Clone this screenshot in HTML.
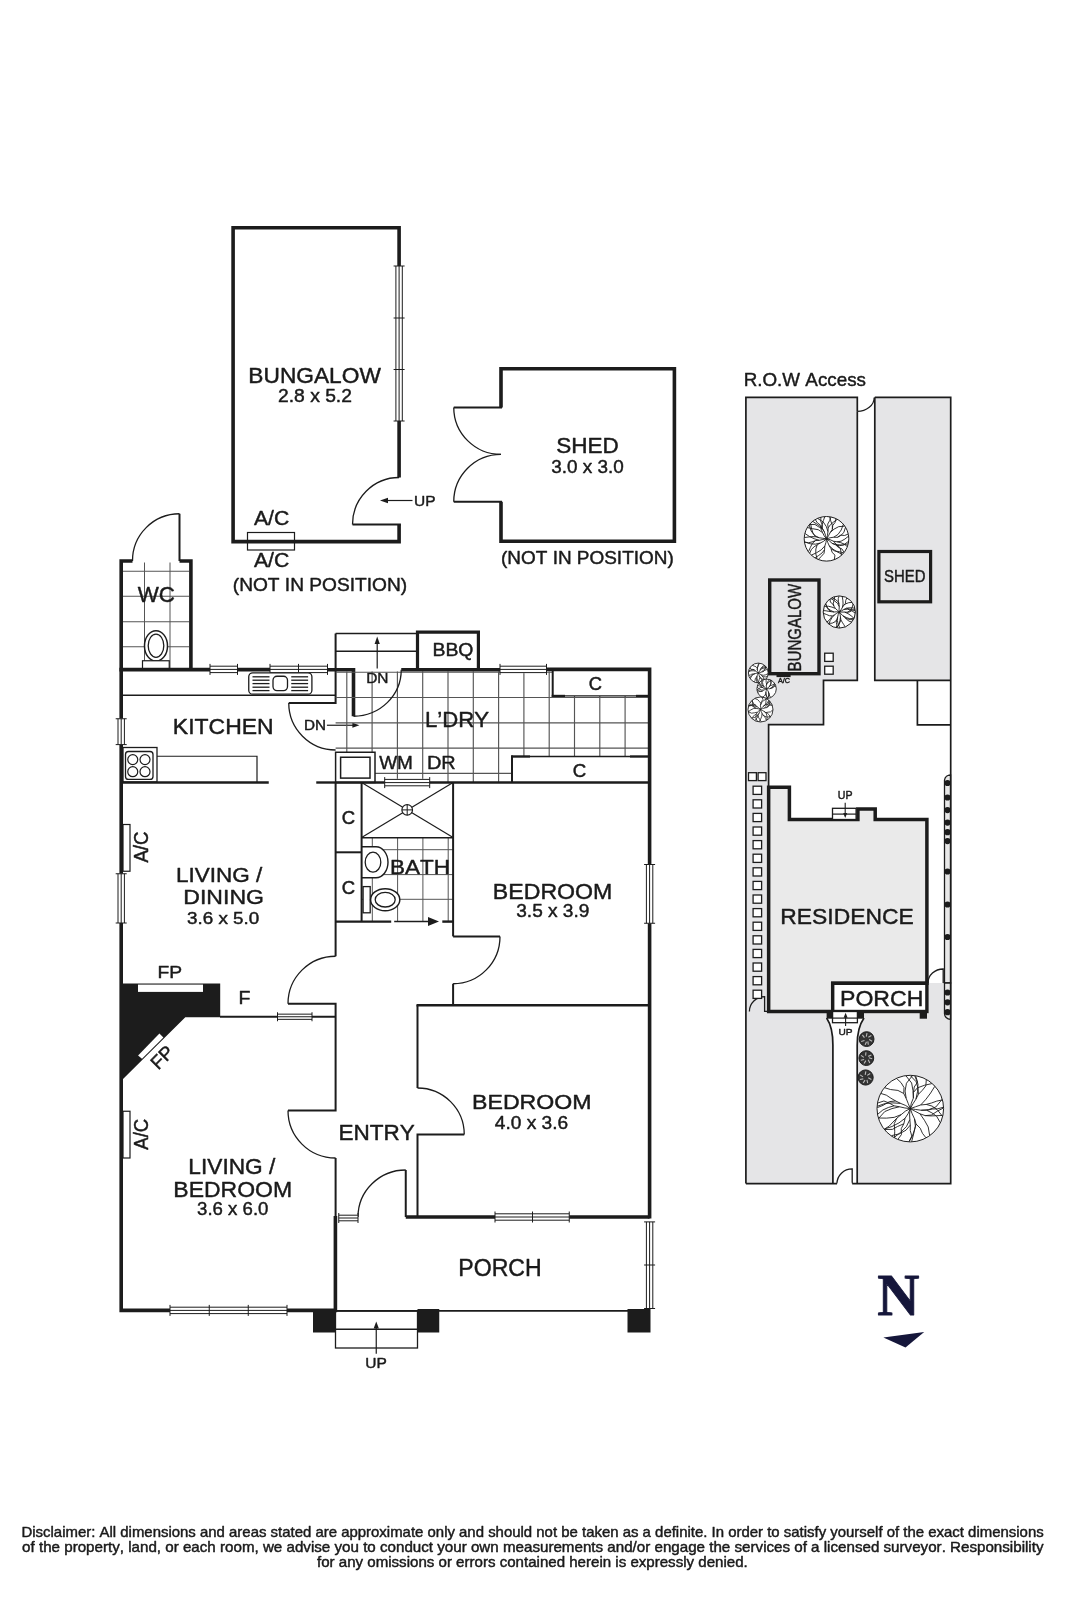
<!DOCTYPE html>
<html><head><meta charset="utf-8"><style>
html,body{margin:0;padding:0;background:#fff;}
svg{display:block;will-change:transform;}
text{font-kerning:none;font-feature-settings:"kern" 0,"liga" 0;}
.disc{position:absolute;left:0;top:0;}
</style></head><body>
<svg width="1067" height="1600" viewBox="0 0 1067 1600" style="font-family:'Liberation Sans',sans-serif">
<rect width="1067" height="1600" fill="#fff"/>
<path d="M399.1,266 L399.1,227.7 L233.1,227.7 L233.1,541.6 L399.1,541.6 L399.1,524.5" stroke="#1c1c1c" stroke-width="3.60" fill="none"/>
<path d="M399.1,421 L399.1,477.5" stroke="#1c1c1c" stroke-width="3.60" fill="none"/>
<line x1="352.50" y1="524.50" x2="400.90" y2="524.50" stroke="#1c1c1c" stroke-width="2.00" stroke-linecap="butt"/>
<path d="M399.1,477.5 A46.6,47 0 0 0 352.5,524.5" stroke="#1c1c1c" stroke-width="1.30" fill="none"/>
<rect x="395.30" y="266.00" width="7.60" height="155.00" fill="#fff"/>
<line x1="395.90" y1="266.00" x2="395.90" y2="421.00" stroke="#1c1c1c" stroke-width="1.00" stroke-linecap="butt"/>
<line x1="399.10" y1="266.00" x2="399.10" y2="421.00" stroke="#1c1c1c" stroke-width="1.00" stroke-linecap="butt"/>
<line x1="402.30" y1="266.00" x2="402.30" y2="421.00" stroke="#1c1c1c" stroke-width="1.00" stroke-linecap="butt"/>
<line x1="393.60" y1="266.00" x2="404.60" y2="266.00" stroke="#1c1c1c" stroke-width="1.00" stroke-linecap="butt"/>
<line x1="393.60" y1="318.00" x2="404.60" y2="318.00" stroke="#1c1c1c" stroke-width="1.00" stroke-linecap="butt"/>
<line x1="393.60" y1="369.50" x2="404.60" y2="369.50" stroke="#1c1c1c" stroke-width="1.00" stroke-linecap="butt"/>
<line x1="393.60" y1="421.00" x2="404.60" y2="421.00" stroke="#1c1c1c" stroke-width="1.00" stroke-linecap="butt"/>
<rect x="247.50" y="532.50" width="47.00" height="17.50" rx="0.00" stroke="#1c1c1c" stroke-width="1.20" fill="none"/>
<line x1="384.00" y1="500.50" x2="412.50" y2="500.50" stroke="#1c1c1c" stroke-width="1.20" stroke-linecap="butt"/>
<polygon points="380.00,500.50 388.00,497.70 388.00,503.30" fill="#1c1c1c"/>
<text transform="translate(248.36 382.77) scale(1.0451 1)" font-size="21.73" font-family="Liberation Sans" font-weight="normal" fill="#1a1a1a" stroke="#1a1a1a" stroke-width="0.45" stroke-linejoin="round">BUNGALOW</text>
<text transform="translate(278.00 402.27) scale(1.0659 1)" font-size="18.10" font-family="Liberation Sans" font-weight="normal" fill="#1a1a1a" stroke="#1a1a1a" stroke-width="0.45" stroke-linejoin="round">2.8 x 5.2</text>
<text transform="translate(253.93 525.27) scale(1.0111 1)" font-size="21.00" font-family="Liberation Sans" font-weight="normal" fill="#1a1a1a" stroke="#1a1a1a" stroke-width="0.45" stroke-linejoin="round">A/C</text>
<text transform="translate(253.93 567.27) scale(1.0473 1)" font-size="20.28" font-family="Liberation Sans" font-weight="normal" fill="#1a1a1a" stroke="#1a1a1a" stroke-width="0.45" stroke-linejoin="round">A/C</text>
<text transform="translate(232.79 591.27) scale(1.0171 1)" font-size="18.82" font-family="Liberation Sans" font-weight="normal" fill="#1a1a1a" stroke="#1a1a1a" stroke-width="0.45" stroke-linejoin="round">(NOT IN POSITION)</text>
<text transform="translate(414.03 505.77) scale(1.0221 1)" font-size="15.19" font-family="Liberation Sans" font-weight="normal" fill="#1a1a1a" stroke="#1a1a1a" stroke-width="0.45" stroke-linejoin="round">UP</text>
<path d="M501,407.5 L501,368.7 L674.4,368.7 L674.4,541.3 L501,541.3 L501,501.8" stroke="#1c1c1c" stroke-width="3.60" fill="none"/>
<line x1="453.75" y1="407.60" x2="502.00" y2="407.60" stroke="#1c1c1c" stroke-width="2.00" stroke-linecap="butt"/>
<line x1="453.75" y1="501.80" x2="502.00" y2="501.80" stroke="#1c1c1c" stroke-width="2.00" stroke-linecap="butt"/>
<path d="M453.75,407.5 A47.3,47 0 0 0 501,454.4" stroke="#1c1c1c" stroke-width="1.30" fill="none"/>
<path d="M453.75,501.8 A47.3,47.4 0 0 1 501,454.4" stroke="#1c1c1c" stroke-width="1.30" fill="none"/>
<text transform="translate(556.20 453.02) scale(1.0207 1)" font-size="22.09" font-family="Liberation Sans" font-weight="normal" fill="#1a1a1a" stroke="#1a1a1a" stroke-width="0.45" stroke-linejoin="round">SHED</text>
<text transform="translate(551.26 472.77) scale(1.0042 1)" font-size="18.82" font-family="Liberation Sans" font-weight="normal" fill="#1a1a1a" stroke="#1a1a1a" stroke-width="0.45" stroke-linejoin="round">3.0 x 3.0</text>
<text transform="translate(501.05 564.27) scale(1.0082 1)" font-size="18.82" font-family="Liberation Sans" font-weight="normal" fill="#1a1a1a" stroke="#1a1a1a" stroke-width="0.45" stroke-linejoin="round">(NOT IN POSITION)</text>
<line x1="123.00" y1="571.25" x2="189.00" y2="571.25" stroke="#555555" stroke-width="1.00" stroke-linecap="butt"/>
<line x1="123.00" y1="596.25" x2="189.00" y2="596.25" stroke="#555555" stroke-width="1.00" stroke-linecap="butt"/>
<line x1="123.00" y1="621.75" x2="189.00" y2="621.75" stroke="#555555" stroke-width="1.00" stroke-linecap="butt"/>
<line x1="123.00" y1="646.75" x2="189.00" y2="646.75" stroke="#555555" stroke-width="1.00" stroke-linecap="butt"/>
<line x1="144.50" y1="562.50" x2="144.50" y2="668.00" stroke="#555555" stroke-width="1.00" stroke-linecap="butt"/>
<line x1="170.00" y1="562.50" x2="170.00" y2="668.00" stroke="#555555" stroke-width="1.00" stroke-linecap="butt"/>
<path d="M132.5,561 L121.2,561 L121.2,718.75" stroke="#1c1c1c" stroke-width="3.60" fill="none"/>
<path d="M179.5,561 L190.9,561 L190.9,669.5" stroke="#1c1c1c" stroke-width="3.60" fill="none"/>
<line x1="179.50" y1="513.75" x2="179.50" y2="561.00" stroke="#1c1c1c" stroke-width="2.00" stroke-linecap="butt"/>
<path d="M179.5,513.75 A47,47 0 0 0 132.5,561" stroke="#1c1c1c" stroke-width="1.30" fill="none"/>
<ellipse cx="156" cy="645.9" rx="11.5" ry="15.2" fill="#fff" stroke="#1c1c1c" stroke-width="1.5"/>
<ellipse cx="156" cy="645.7" rx="7.8" ry="11.6" fill="none" stroke="#1c1c1c" stroke-width="1.3"/>
<rect x="142.50" y="660.75" width="26.75" height="8.75" rx="0.00" stroke="#1c1c1c" stroke-width="1.20" fill="#fff"/>
<text transform="translate(137.63 601.77) scale(0.9798 1)" font-size="22.82" font-family="Liberation Sans" font-weight="normal" fill="#1a1a1a" stroke="#1a1a1a" stroke-width="0.45" stroke-linejoin="round">WC</text>
<path d="M121.2,667.7 L121.2,669.6 L210,669.6" stroke="#1c1c1c" stroke-width="3.60" fill="none"/>
<path d="M237.5,669.6 L270,669.6" stroke="#1c1c1c" stroke-width="3.60" fill="none"/>
<path d="M327.5,669.8 L353.5,669.8 L353.5,716.25" stroke="#1c1c1c" stroke-width="3.60" fill="none"/>
<rect x="210.00" y="665.60" width="27.50" height="7.60" fill="#fff"/>
<line x1="210.00" y1="666.20" x2="237.50" y2="666.20" stroke="#1c1c1c" stroke-width="1.00" stroke-linecap="butt"/>
<line x1="210.00" y1="669.40" x2="237.50" y2="669.40" stroke="#1c1c1c" stroke-width="1.00" stroke-linecap="butt"/>
<line x1="210.00" y1="672.60" x2="237.50" y2="672.60" stroke="#1c1c1c" stroke-width="1.00" stroke-linecap="butt"/>
<line x1="210.00" y1="663.90" x2="210.00" y2="674.90" stroke="#1c1c1c" stroke-width="1.00" stroke-linecap="butt"/>
<line x1="237.50" y1="663.90" x2="237.50" y2="674.90" stroke="#1c1c1c" stroke-width="1.00" stroke-linecap="butt"/>
<rect x="270.00" y="665.60" width="57.50" height="7.60" fill="#fff"/>
<line x1="270.00" y1="666.20" x2="327.50" y2="666.20" stroke="#1c1c1c" stroke-width="1.00" stroke-linecap="butt"/>
<line x1="270.00" y1="669.40" x2="327.50" y2="669.40" stroke="#1c1c1c" stroke-width="1.00" stroke-linecap="butt"/>
<line x1="270.00" y1="672.60" x2="327.50" y2="672.60" stroke="#1c1c1c" stroke-width="1.00" stroke-linecap="butt"/>
<line x1="270.00" y1="663.90" x2="270.00" y2="674.90" stroke="#1c1c1c" stroke-width="1.00" stroke-linecap="butt"/>
<line x1="298.50" y1="663.90" x2="298.50" y2="674.90" stroke="#1c1c1c" stroke-width="1.00" stroke-linecap="butt"/>
<line x1="327.50" y1="663.90" x2="327.50" y2="674.90" stroke="#1c1c1c" stroke-width="1.00" stroke-linecap="butt"/>
<path d="M335.6,633.4 L335.6,703.1 L288.75,703.1" stroke="#1c1c1c" stroke-width="2.00" fill="none"/>
<line x1="123.00" y1="695.20" x2="335.60" y2="695.20" stroke="#1c1c1c" stroke-width="1.50" stroke-linecap="butt"/>
<rect x="248.75" y="672.80" width="63.15" height="21.40" rx="4.00" stroke="#1c1c1c" stroke-width="1.30" fill="#fff"/>
<rect x="273.00" y="676.25" width="14.50" height="14.35" rx="4.00" stroke="#1c1c1c" stroke-width="1.30" fill="none"/>
<line x1="291.25" y1="676.80" x2="308.10" y2="676.80" stroke="#1c1c1c" stroke-width="1.30" stroke-linecap="butt"/>
<line x1="252.50" y1="676.80" x2="269.50" y2="676.80" stroke="#1c1c1c" stroke-width="1.30" stroke-linecap="butt"/>
<line x1="291.25" y1="680.20" x2="308.10" y2="680.20" stroke="#1c1c1c" stroke-width="1.30" stroke-linecap="butt"/>
<line x1="252.50" y1="680.20" x2="269.50" y2="680.20" stroke="#1c1c1c" stroke-width="1.30" stroke-linecap="butt"/>
<line x1="291.25" y1="683.60" x2="308.10" y2="683.60" stroke="#1c1c1c" stroke-width="1.30" stroke-linecap="butt"/>
<line x1="252.50" y1="683.60" x2="269.50" y2="683.60" stroke="#1c1c1c" stroke-width="1.30" stroke-linecap="butt"/>
<line x1="291.25" y1="687.20" x2="308.10" y2="687.20" stroke="#1c1c1c" stroke-width="1.30" stroke-linecap="butt"/>
<line x1="252.50" y1="687.20" x2="269.50" y2="687.20" stroke="#1c1c1c" stroke-width="1.30" stroke-linecap="butt"/>
<line x1="291.25" y1="690.60" x2="308.10" y2="690.60" stroke="#1c1c1c" stroke-width="1.30" stroke-linecap="butt"/>
<line x1="252.50" y1="690.60" x2="269.50" y2="690.60" stroke="#1c1c1c" stroke-width="1.30" stroke-linecap="butt"/>
<path d="M288.75,703.1 A46.9,47 0 0 0 335.6,750" stroke="#1c1c1c" stroke-width="1.30" fill="none"/>
<text transform="translate(303.97 730.38) scale(1.0554 1)" font-size="14.46" font-family="Liberation Sans" font-weight="normal" fill="#1a1a1a" stroke="#1a1a1a" stroke-width="0.45" stroke-linejoin="round">DN</text>
<line x1="326.90" y1="725.25" x2="354.00" y2="725.25" stroke="#1c1c1c" stroke-width="1.20" stroke-linecap="butt"/>
<polygon points="359.40,725.25 352.40,727.75 352.40,722.75" fill="#1c1c1c"/>
<rect x="123.00" y="747.50" width="34.00" height="34.50" rx="0.00" stroke="#1c1c1c" stroke-width="1.30" fill="none"/>
<rect x="125.50" y="751.50" width="27.50" height="27.90" rx="3.00" stroke="#1c1c1c" stroke-width="1.30" fill="none"/>
<circle cx="132.75" cy="759.60" r="5" fill="none" stroke="#1c1c1c" stroke-width="1.2"/>
<circle cx="145.00" cy="759.60" r="5" fill="none" stroke="#1c1c1c" stroke-width="1.2"/>
<circle cx="132.75" cy="771.70" r="5" fill="none" stroke="#1c1c1c" stroke-width="1.2"/>
<circle cx="145.00" cy="771.70" r="5" fill="none" stroke="#1c1c1c" stroke-width="1.2"/>
<path d="M157,756.25 L257,756.25 L257,782" stroke="#1c1c1c" stroke-width="1.20" fill="none"/>
<path d="M121.2,744.6 L121.2,873.75" stroke="#1c1c1c" stroke-width="3.60" fill="none"/>
<rect x="117.40" y="718.75" width="7.60" height="25.85" fill="#fff"/>
<line x1="118.00" y1="718.75" x2="118.00" y2="744.60" stroke="#1c1c1c" stroke-width="1.00" stroke-linecap="butt"/>
<line x1="121.20" y1="718.75" x2="121.20" y2="744.60" stroke="#1c1c1c" stroke-width="1.00" stroke-linecap="butt"/>
<line x1="124.40" y1="718.75" x2="124.40" y2="744.60" stroke="#1c1c1c" stroke-width="1.00" stroke-linecap="butt"/>
<line x1="115.70" y1="718.75" x2="126.70" y2="718.75" stroke="#1c1c1c" stroke-width="1.00" stroke-linecap="butt"/>
<line x1="115.70" y1="744.60" x2="126.70" y2="744.60" stroke="#1c1c1c" stroke-width="1.00" stroke-linecap="butt"/>
<line x1="123.00" y1="782.50" x2="268.75" y2="782.50" stroke="#1c1c1c" stroke-width="2.40" stroke-linecap="butt"/>
<line x1="316.25" y1="782.50" x2="335.60" y2="782.50" stroke="#1c1c1c" stroke-width="2.40" stroke-linecap="butt"/>
<text transform="translate(172.84 734.02) scale(1.0227 1)" font-size="22.46" font-family="Liberation Sans" font-weight="normal" fill="#1a1a1a" stroke="#1a1a1a" stroke-width="0.45" stroke-linejoin="round">KITCHEN</text>
<line x1="346.80" y1="671.50" x2="346.80" y2="782.00" stroke="#555555" stroke-width="1.15" stroke-linecap="butt"/>
<line x1="372.10" y1="671.50" x2="372.10" y2="782.00" stroke="#555555" stroke-width="1.15" stroke-linecap="butt"/>
<line x1="397.40" y1="671.50" x2="397.40" y2="782.00" stroke="#555555" stroke-width="1.15" stroke-linecap="butt"/>
<line x1="422.70" y1="671.50" x2="422.70" y2="782.00" stroke="#555555" stroke-width="1.15" stroke-linecap="butt"/>
<line x1="448.00" y1="671.50" x2="448.00" y2="782.00" stroke="#555555" stroke-width="1.15" stroke-linecap="butt"/>
<line x1="473.30" y1="671.50" x2="473.30" y2="782.00" stroke="#555555" stroke-width="1.15" stroke-linecap="butt"/>
<line x1="498.60" y1="671.50" x2="498.60" y2="782.00" stroke="#555555" stroke-width="1.15" stroke-linecap="butt"/>
<line x1="523.90" y1="671.50" x2="523.90" y2="756.50" stroke="#555555" stroke-width="1.15" stroke-linecap="butt"/>
<line x1="549.20" y1="671.50" x2="549.20" y2="756.50" stroke="#555555" stroke-width="1.15" stroke-linecap="butt"/>
<line x1="574.50" y1="696.00" x2="574.50" y2="756.50" stroke="#555555" stroke-width="1.15" stroke-linecap="butt"/>
<line x1="599.80" y1="696.00" x2="599.80" y2="756.50" stroke="#555555" stroke-width="1.15" stroke-linecap="butt"/>
<line x1="625.10" y1="696.00" x2="625.10" y2="756.50" stroke="#555555" stroke-width="1.15" stroke-linecap="butt"/>
<line x1="335.60" y1="672.25" x2="552.70" y2="672.25" stroke="#555555" stroke-width="1.15" stroke-linecap="butt"/>
<line x1="335.60" y1="697.50" x2="648.00" y2="697.50" stroke="#555555" stroke-width="1.15" stroke-linecap="butt"/>
<line x1="335.60" y1="722.90" x2="648.00" y2="722.90" stroke="#555555" stroke-width="1.15" stroke-linecap="butt"/>
<line x1="335.60" y1="748.10" x2="648.00" y2="748.10" stroke="#555555" stroke-width="1.15" stroke-linecap="butt"/>
<line x1="335.60" y1="773.40" x2="512.00" y2="773.40" stroke="#555555" stroke-width="1.15" stroke-linecap="butt"/>
<line x1="335.60" y1="633.40" x2="417.50" y2="633.40" stroke="#1c1c1c" stroke-width="1.50" stroke-linecap="butt"/>
<line x1="335.60" y1="651.20" x2="417.50" y2="651.20" stroke="#1c1c1c" stroke-width="1.50" stroke-linecap="butt"/>
<line x1="377.20" y1="668.40" x2="377.20" y2="643.00" stroke="#1c1c1c" stroke-width="1.20" stroke-linecap="butt"/>
<polygon points="377.20,636.50 379.80,644.00 374.60,644.00" fill="#1c1c1c"/>
<text transform="translate(366.21 682.52) scale(1.0427 1)" font-size="14.83" font-family="Liberation Sans" font-weight="normal" fill="#1a1a1a" stroke="#1a1a1a" stroke-width="0.45" stroke-linejoin="round">DN</text>
<path d="M417.5,671 L417.5,632.2 L478.4,632.2 L478.4,671" stroke="#1c1c1c" stroke-width="3.20" fill="none"/>
<text transform="translate(432.43 655.98) scale(1.0579 1)" font-size="18.39" font-family="Liberation Sans" font-weight="normal" fill="#1a1a1a" stroke="#1a1a1a" stroke-width="0.45" stroke-linejoin="round">BBQ</text>
<path d="M401.25,669.8 L500,669.8" stroke="#1c1c1c" stroke-width="3.60" fill="none"/>
<rect x="500.00" y="665.60" width="46.50" height="7.60" fill="#fff"/>
<line x1="500.00" y1="666.20" x2="546.50" y2="666.20" stroke="#1c1c1c" stroke-width="1.00" stroke-linecap="butt"/>
<line x1="500.00" y1="669.40" x2="546.50" y2="669.40" stroke="#1c1c1c" stroke-width="1.00" stroke-linecap="butt"/>
<line x1="500.00" y1="672.60" x2="546.50" y2="672.60" stroke="#1c1c1c" stroke-width="1.00" stroke-linecap="butt"/>
<line x1="500.00" y1="663.90" x2="500.00" y2="674.90" stroke="#1c1c1c" stroke-width="1.00" stroke-linecap="butt"/>
<line x1="546.50" y1="663.90" x2="546.50" y2="674.90" stroke="#1c1c1c" stroke-width="1.00" stroke-linecap="butt"/>
<path d="M546.5,669.4 L649.6,669.4 L649.6,864.5" stroke="#1c1c1c" stroke-width="3.60" fill="none"/>
<path d="M649.6,923.25 L649.6,1218.6" stroke="#1c1c1c" stroke-width="3.60" fill="none"/>
<rect x="645.80" y="864.50" width="7.60" height="58.75" fill="#fff"/>
<line x1="646.40" y1="864.50" x2="646.40" y2="923.25" stroke="#1c1c1c" stroke-width="1.00" stroke-linecap="butt"/>
<line x1="649.60" y1="864.50" x2="649.60" y2="923.25" stroke="#1c1c1c" stroke-width="1.00" stroke-linecap="butt"/>
<line x1="652.80" y1="864.50" x2="652.80" y2="923.25" stroke="#1c1c1c" stroke-width="1.00" stroke-linecap="butt"/>
<line x1="644.10" y1="864.50" x2="655.10" y2="864.50" stroke="#1c1c1c" stroke-width="1.00" stroke-linecap="butt"/>
<line x1="644.10" y1="923.25" x2="655.10" y2="923.25" stroke="#1c1c1c" stroke-width="1.00" stroke-linecap="butt"/>
<path d="M353.5,716.25 A47.75,46.45 0 0 0 401.25,669.8" stroke="#1c1c1c" stroke-width="1.30" fill="none"/>
<line x1="552.70" y1="671.00" x2="552.70" y2="696.90" stroke="#1c1c1c" stroke-width="2.00" stroke-linecap="butt"/>
<line x1="552.70" y1="695.90" x2="648.00" y2="695.90" stroke="#1c1c1c" stroke-width="1.30" stroke-linecap="butt"/>
<line x1="551.70" y1="695.90" x2="565.00" y2="695.90" stroke="#1c1c1c" stroke-width="2.20" stroke-linecap="butt"/>
<line x1="636.00" y1="695.90" x2="648.00" y2="695.90" stroke="#1c1c1c" stroke-width="2.20" stroke-linecap="butt"/>
<line x1="512.00" y1="783.00" x2="512.00" y2="755.50" stroke="#1c1c1c" stroke-width="2.00" stroke-linecap="butt"/>
<line x1="512.00" y1="756.50" x2="648.00" y2="756.50" stroke="#1c1c1c" stroke-width="1.30" stroke-linecap="butt"/>
<line x1="511.00" y1="756.50" x2="530.00" y2="756.50" stroke="#1c1c1c" stroke-width="2.20" stroke-linecap="butt"/>
<line x1="630.00" y1="756.50" x2="648.00" y2="756.50" stroke="#1c1c1c" stroke-width="2.20" stroke-linecap="butt"/>
<text transform="translate(588.79 690.38) scale(1.0084 1)" font-size="18.24" font-family="Liberation Sans" font-weight="normal" fill="#1a1a1a" stroke="#1a1a1a" stroke-width="0.45" stroke-linejoin="round">C</text>
<text transform="translate(572.77 776.98) scale(0.9941 1)" font-size="18.82" font-family="Liberation Sans" font-weight="normal" fill="#1a1a1a" stroke="#1a1a1a" stroke-width="0.45" stroke-linejoin="round">C</text>
<rect x="335.60" y="752.25" width="39.40" height="30.25" rx="0.00" stroke="#1c1c1c" stroke-width="1.50" fill="#fff"/>
<rect x="340.60" y="757.25" width="29.40" height="20.85" rx="0.00" stroke="#1c1c1c" stroke-width="1.50" fill="none"/>
<text transform="translate(379.14 769.38) scale(0.9995 1)" font-size="18.97" font-family="Liberation Sans" font-weight="normal" fill="#1a1a1a" stroke="#1a1a1a" stroke-width="0.45" stroke-linejoin="round">WM</text>
<text transform="translate(426.89 769.38) scale(1.0516 1)" font-size="18.97" font-family="Liberation Sans" font-weight="normal" fill="#1a1a1a" stroke="#1a1a1a" stroke-width="0.45" stroke-linejoin="round">DR</text>
<text transform="translate(424.91 726.88) scale(0.9808 1)" font-size="22.60" font-family="Liberation Sans" font-weight="normal" fill="#1a1a1a" stroke="#1a1a1a" stroke-width="0.45" stroke-linejoin="round">L’DRY</text>
<line x1="335.60" y1="782.50" x2="649.00" y2="782.50" stroke="#1c1c1c" stroke-width="2.40" stroke-linecap="butt"/>
<rect x="384.70" y="778.80" width="45.00" height="7.60" fill="#fff"/>
<line x1="384.70" y1="779.40" x2="429.70" y2="779.40" stroke="#1c1c1c" stroke-width="1.00" stroke-linecap="butt"/>
<line x1="384.70" y1="782.60" x2="429.70" y2="782.60" stroke="#1c1c1c" stroke-width="1.00" stroke-linecap="butt"/>
<line x1="384.70" y1="785.80" x2="429.70" y2="785.80" stroke="#1c1c1c" stroke-width="1.00" stroke-linecap="butt"/>
<line x1="384.70" y1="777.10" x2="384.70" y2="788.10" stroke="#1c1c1c" stroke-width="1.00" stroke-linecap="butt"/>
<line x1="429.70" y1="777.10" x2="429.70" y2="788.10" stroke="#1c1c1c" stroke-width="1.00" stroke-linecap="butt"/>
<line x1="372.30" y1="838.00" x2="372.30" y2="921.00" stroke="#555555" stroke-width="1.00" stroke-linecap="butt"/>
<line x1="397.60" y1="838.00" x2="397.60" y2="921.00" stroke="#555555" stroke-width="1.00" stroke-linecap="butt"/>
<line x1="422.90" y1="838.00" x2="422.90" y2="921.00" stroke="#555555" stroke-width="1.00" stroke-linecap="butt"/>
<line x1="448.20" y1="838.00" x2="448.20" y2="921.00" stroke="#555555" stroke-width="1.00" stroke-linecap="butt"/>
<line x1="361.60" y1="849.70" x2="453.00" y2="849.70" stroke="#555555" stroke-width="1.00" stroke-linecap="butt"/>
<line x1="361.60" y1="874.60" x2="453.00" y2="874.60" stroke="#555555" stroke-width="1.00" stroke-linecap="butt"/>
<line x1="361.60" y1="899.30" x2="453.00" y2="899.30" stroke="#555555" stroke-width="1.00" stroke-linecap="butt"/>
<line x1="361.60" y1="837.80" x2="453.10" y2="837.80" stroke="#1c1c1c" stroke-width="1.60" stroke-linecap="butt"/>
<line x1="361.60" y1="782.50" x2="453.10" y2="837.50" stroke="#1c1c1c" stroke-width="1.20" stroke-linecap="butt"/>
<line x1="453.10" y1="782.50" x2="361.60" y2="837.50" stroke="#1c1c1c" stroke-width="1.20" stroke-linecap="butt"/>
<circle cx="407.2" cy="809.9" r="5.3" fill="#fff" stroke="#1c1c1c" stroke-width="1.2"/>
<line x1="401.90" y1="809.90" x2="412.50" y2="809.90" stroke="#1c1c1c" stroke-width="1.00" stroke-linecap="butt"/>
<line x1="407.20" y1="804.60" x2="407.20" y2="815.20" stroke="#1c1c1c" stroke-width="1.00" stroke-linecap="butt"/>
<path d="M361.6,846.8 L376,846.8 A12,15.5 0 0 1 376,877.8 L361.6,877.8" stroke="#1c1c1c" stroke-width="1.40" fill="#fff"/>
<ellipse cx="373" cy="862.2" rx="7.8" ry="10" fill="none" stroke="#1c1c1c" stroke-width="1.3"/>
<rect x="363.10" y="886.60" width="7.10" height="26.20" rx="0.00" stroke="#1c1c1c" stroke-width="1.30" fill="#fff"/>
<ellipse cx="385.2" cy="899.7" rx="14.6" ry="11" fill="#fff" stroke="#1c1c1c" stroke-width="1.5"/>
<ellipse cx="385.2" cy="899.7" rx="10" ry="7.3" fill="none" stroke="#1c1c1c" stroke-width="1.3"/>
<line x1="335.60" y1="782.50" x2="335.60" y2="956.25" stroke="#1c1c1c" stroke-width="2.00" stroke-linecap="butt"/>
<line x1="361.60" y1="782.50" x2="361.60" y2="921.50" stroke="#1c1c1c" stroke-width="2.00" stroke-linecap="butt"/>
<line x1="335.60" y1="852.30" x2="361.60" y2="852.30" stroke="#1c1c1c" stroke-width="2.00" stroke-linecap="butt"/>
<line x1="453.10" y1="782.50" x2="453.10" y2="936.40" stroke="#1c1c1c" stroke-width="2.00" stroke-linecap="butt"/>
<path d="M453.1,936.4 L500,936.4" stroke="#1c1c1c" stroke-width="2.00" fill="none"/>
<path d="M500,936.4 A46.9,47.35 0 0 1 453.1,983.75" stroke="#1c1c1c" stroke-width="1.30" fill="none"/>
<line x1="453.10" y1="983.75" x2="453.10" y2="1006.00" stroke="#1c1c1c" stroke-width="2.00" stroke-linecap="butt"/>
<line x1="335.60" y1="921.60" x2="391.20" y2="921.60" stroke="#1c1c1c" stroke-width="2.40" stroke-linecap="butt"/>
<line x1="394.20" y1="921.60" x2="429.00" y2="921.60" stroke="#1c1c1c" stroke-width="1.50" stroke-linecap="butt"/>
<polygon points="439.00,921.60 428.00,926.10 428.00,917.10" fill="#1c1c1c"/>
<line x1="442.30" y1="921.60" x2="453.10" y2="921.60" stroke="#1c1c1c" stroke-width="2.40" stroke-linecap="butt"/>
<text transform="translate(341.78 824.48) scale(1.0253 1)" font-size="18.10" font-family="Liberation Sans" font-weight="normal" fill="#1a1a1a" stroke="#1a1a1a" stroke-width="0.45" stroke-linejoin="round">C</text>
<text transform="translate(341.78 893.88) scale(1.0171 1)" font-size="18.24" font-family="Liberation Sans" font-weight="normal" fill="#1a1a1a" stroke="#1a1a1a" stroke-width="0.45" stroke-linejoin="round">C</text>
<text transform="translate(389.98 873.77) scale(1.0792 1)" font-size="20.86" font-family="Liberation Sans" font-weight="normal" fill="#1a1a1a" stroke="#1a1a1a" stroke-width="0.45" stroke-linejoin="round">BATH</text>
<line x1="416.50" y1="1005.20" x2="649.00" y2="1005.20" stroke="#1c1c1c" stroke-width="2.40" stroke-linecap="butt"/>
<text transform="translate(492.83 898.52) scale(1.0652 1)" font-size="21.73" font-family="Liberation Sans" font-weight="normal" fill="#1a1a1a" stroke="#1a1a1a" stroke-width="0.45" stroke-linejoin="round">BEDROOM</text>
<text transform="translate(516.25 917.27) scale(1.0542 1)" font-size="18.10" font-family="Liberation Sans" font-weight="normal" fill="#1a1a1a" stroke="#1a1a1a" stroke-width="0.45" stroke-linejoin="round">3.5 x 3.9</text>
<path d="M121.2,923 L121.2,1310.4 L170,1310.4" stroke="#1c1c1c" stroke-width="3.60" fill="none"/>
<path d="M287,1310.4 L335.4,1310.4 L335.4,1216" stroke="#1c1c1c" stroke-width="3.60" fill="none"/>
<rect x="117.40" y="873.75" width="7.60" height="49.25" fill="#fff"/>
<line x1="118.00" y1="873.75" x2="118.00" y2="923.00" stroke="#1c1c1c" stroke-width="1.00" stroke-linecap="butt"/>
<line x1="121.20" y1="873.75" x2="121.20" y2="923.00" stroke="#1c1c1c" stroke-width="1.00" stroke-linecap="butt"/>
<line x1="124.40" y1="873.75" x2="124.40" y2="923.00" stroke="#1c1c1c" stroke-width="1.00" stroke-linecap="butt"/>
<line x1="115.70" y1="873.75" x2="126.70" y2="873.75" stroke="#1c1c1c" stroke-width="1.00" stroke-linecap="butt"/>
<line x1="115.70" y1="923.00" x2="126.70" y2="923.00" stroke="#1c1c1c" stroke-width="1.00" stroke-linecap="butt"/>
<rect x="170.00" y="1306.60" width="117.00" height="7.60" fill="#fff"/>
<line x1="170.00" y1="1307.20" x2="287.00" y2="1307.20" stroke="#1c1c1c" stroke-width="1.00" stroke-linecap="butt"/>
<line x1="170.00" y1="1310.40" x2="287.00" y2="1310.40" stroke="#1c1c1c" stroke-width="1.00" stroke-linecap="butt"/>
<line x1="170.00" y1="1313.60" x2="287.00" y2="1313.60" stroke="#1c1c1c" stroke-width="1.00" stroke-linecap="butt"/>
<line x1="170.00" y1="1304.90" x2="170.00" y2="1315.90" stroke="#1c1c1c" stroke-width="1.00" stroke-linecap="butt"/>
<line x1="209.25" y1="1304.90" x2="209.25" y2="1315.90" stroke="#1c1c1c" stroke-width="1.00" stroke-linecap="butt"/>
<line x1="248.25" y1="1304.90" x2="248.25" y2="1315.90" stroke="#1c1c1c" stroke-width="1.00" stroke-linecap="butt"/>
<line x1="287.00" y1="1304.90" x2="287.00" y2="1315.90" stroke="#1c1c1c" stroke-width="1.00" stroke-linecap="butt"/>
<rect x="123.00" y="824.50" width="7.00" height="46.75" rx="0.00" stroke="#1c1c1c" stroke-width="1.20" fill="none"/>
<rect x="123.00" y="1111.25" width="7.00" height="46.75" rx="0.00" stroke="#1c1c1c" stroke-width="1.20" fill="none"/>
<g transform="rotate(-90 141.55 847.35)"><text transform="translate(126.29 854.27) scale(0.9297 1)" font-size="20.13" font-family="Liberation Sans" font-weight="normal" fill="#1a1a1a" stroke="#1a1a1a" stroke-width="0.45" stroke-linejoin="round">A/C</text></g>
<g transform="rotate(-90 141.5 1134.55)"><text transform="translate(126.34 1141.42) scale(0.9303 1)" font-size="19.99" font-family="Liberation Sans" font-weight="normal" fill="#1a1a1a" stroke="#1a1a1a" stroke-width="0.45" stroke-linejoin="round">A/C</text></g>
<text transform="translate(158.2 1070.4) rotate(-45)" font-size="18.9" font-family="Liberation Sans" fill="#1a1a1a" stroke="#1a1a1a" stroke-width="0.45">FP</text>
<path d="M335.6,956.25 A47.6,47.5 0 0 0 288,1003.75" stroke="#1c1c1c" stroke-width="1.30" fill="none"/>
<path d="M288,1003.75 L335.6,1003.75 L335.6,1110.5 L288,1110.5" stroke="#1c1c1c" stroke-width="2.00" fill="none"/>
<path d="M288,1110.5 A47.6,47.5 0 0 0 335.6,1158" stroke="#1c1c1c" stroke-width="1.30" fill="none"/>
<line x1="335.60" y1="1158.00" x2="335.60" y2="1217.00" stroke="#1c1c1c" stroke-width="2.00" stroke-linecap="butt"/>
<line x1="220.00" y1="1016.75" x2="277.50" y2="1016.75" stroke="#1c1c1c" stroke-width="2.00" stroke-linecap="butt"/>
<line x1="312.00" y1="1016.75" x2="335.60" y2="1016.75" stroke="#1c1c1c" stroke-width="2.00" stroke-linecap="butt"/>
<rect x="277.50" y="1013.55" width="34.50" height="6.40" fill="#fff"/>
<line x1="277.50" y1="1014.15" x2="312.00" y2="1014.15" stroke="#1c1c1c" stroke-width="1.00" stroke-linecap="butt"/>
<line x1="277.50" y1="1016.75" x2="312.00" y2="1016.75" stroke="#1c1c1c" stroke-width="1.00" stroke-linecap="butt"/>
<line x1="277.50" y1="1019.35" x2="312.00" y2="1019.35" stroke="#1c1c1c" stroke-width="1.00" stroke-linecap="butt"/>
<line x1="277.50" y1="1012.25" x2="277.50" y2="1021.25" stroke="#1c1c1c" stroke-width="1.00" stroke-linecap="butt"/>
<line x1="312.00" y1="1012.25" x2="312.00" y2="1021.25" stroke="#1c1c1c" stroke-width="1.00" stroke-linecap="butt"/>
<polygon points="122,983.4 220.2,983.4 220.2,1017.3 185.3,1017.3 122,1080" fill="#1c1c1c"/>
<rect x="138.00" y="984.60" width="65.00" height="7.30" fill="#fff"/>
<polygon points="138.1,1055.4 142,1058.8 163.4,1037.4 159.4,1033.5" fill="#fff"/>
<text transform="translate(175.88 881.77) scale(1.0728 1)" font-size="21.00" font-family="Liberation Sans" font-weight="normal" fill="#1a1a1a" stroke="#1a1a1a" stroke-width="0.45" stroke-linejoin="round">LIVING /</text>
<text transform="translate(183.33 904.27) scale(1.0973 1)" font-size="21.00" font-family="Liberation Sans" font-weight="normal" fill="#1a1a1a" stroke="#1a1a1a" stroke-width="0.45" stroke-linejoin="round">DINING</text>
<text transform="translate(187.01 923.52) scale(1.1076 1)" font-size="17.01" font-family="Liberation Sans" font-weight="normal" fill="#1a1a1a" stroke="#1a1a1a" stroke-width="0.45" stroke-linejoin="round">3.6 x 5.0</text>
<text transform="translate(157.39 978.02) scale(1.1106 1)" font-size="17.37" font-family="Liberation Sans" font-weight="normal" fill="#1a1a1a" stroke="#1a1a1a" stroke-width="0.45" stroke-linejoin="round">FP</text>
<text transform="translate(238.62 1003.52) scale(1.0797 1)" font-size="18.10" font-family="Liberation Sans" font-weight="normal" fill="#1a1a1a" stroke="#1a1a1a" stroke-width="0.45" stroke-linejoin="round">F</text>
<text transform="translate(188.37 1174.03) scale(1.0608 1)" font-size="21.37" font-family="Liberation Sans" font-weight="normal" fill="#1a1a1a" stroke="#1a1a1a" stroke-width="0.45" stroke-linejoin="round">LIVING /</text>
<text transform="translate(173.34 1196.78) scale(1.0077 1)" font-size="22.82" font-family="Liberation Sans" font-weight="normal" fill="#1a1a1a" stroke="#1a1a1a" stroke-width="0.45" stroke-linejoin="round">BEDROOM</text>
<text transform="translate(197.02 1215.28) scale(0.9901 1)" font-size="18.82" font-family="Liberation Sans" font-weight="normal" fill="#1a1a1a" stroke="#1a1a1a" stroke-width="0.45" stroke-linejoin="round">3.6 x 6.0</text>
<path d="M417.5,1005 L417.5,1088" stroke="#1c1c1c" stroke-width="2.00" fill="none"/>
<path d="M417.5,1088 A46.75,46.5 0 0 1 464.25,1134.5" stroke="#1c1c1c" stroke-width="1.30" fill="none"/>
<path d="M464.25,1134.5 L417.5,1134.5 L417.5,1217" stroke="#1c1c1c" stroke-width="2.00" fill="none"/>
<path d="M405.75,1217 L495,1217" stroke="#1c1c1c" stroke-width="3.60" fill="none"/>
<rect x="495.00" y="1213.20" width="74.25" height="7.60" fill="#fff"/>
<line x1="495.00" y1="1213.80" x2="569.25" y2="1213.80" stroke="#1c1c1c" stroke-width="1.00" stroke-linecap="butt"/>
<line x1="495.00" y1="1217.00" x2="569.25" y2="1217.00" stroke="#1c1c1c" stroke-width="1.00" stroke-linecap="butt"/>
<line x1="495.00" y1="1220.20" x2="569.25" y2="1220.20" stroke="#1c1c1c" stroke-width="1.00" stroke-linecap="butt"/>
<line x1="495.00" y1="1211.50" x2="495.00" y2="1222.50" stroke="#1c1c1c" stroke-width="1.00" stroke-linecap="butt"/>
<line x1="532.50" y1="1211.50" x2="532.50" y2="1222.50" stroke="#1c1c1c" stroke-width="1.00" stroke-linecap="butt"/>
<line x1="569.25" y1="1211.50" x2="569.25" y2="1222.50" stroke="#1c1c1c" stroke-width="1.00" stroke-linecap="butt"/>
<path d="M569.25,1217 L649.6,1217" stroke="#1c1c1c" stroke-width="3.60" fill="none"/>
<line x1="405.75" y1="1170.00" x2="405.75" y2="1217.00" stroke="#1c1c1c" stroke-width="2.00" stroke-linecap="butt"/>
<path d="M405.75,1170 A47.75,47 0 0 0 358,1217" stroke="#1c1c1c" stroke-width="1.30" fill="none"/>
<rect x="338.75" y="1214.60" width="19.25" height="6.80" fill="#fff"/>
<line x1="338.75" y1="1215.20" x2="358.00" y2="1215.20" stroke="#1c1c1c" stroke-width="1.00" stroke-linecap="butt"/>
<line x1="338.75" y1="1218.00" x2="358.00" y2="1218.00" stroke="#1c1c1c" stroke-width="1.00" stroke-linecap="butt"/>
<line x1="338.75" y1="1220.80" x2="358.00" y2="1220.80" stroke="#1c1c1c" stroke-width="1.00" stroke-linecap="butt"/>
<line x1="338.75" y1="1213.00" x2="338.75" y2="1223.00" stroke="#1c1c1c" stroke-width="1.00" stroke-linecap="butt"/>
<line x1="358.00" y1="1213.00" x2="358.00" y2="1223.00" stroke="#1c1c1c" stroke-width="1.00" stroke-linecap="butt"/>
<text transform="translate(338.38 1139.78) scale(1.0373 1)" font-size="21.73" font-family="Liberation Sans" font-weight="normal" fill="#1a1a1a" stroke="#1a1a1a" stroke-width="0.45" stroke-linejoin="round">ENTRY</text>
<text transform="translate(472.08 1109.28) scale(1.1020 1)" font-size="21.00" font-family="Liberation Sans" font-weight="normal" fill="#1a1a1a" stroke="#1a1a1a" stroke-width="0.45" stroke-linejoin="round">BEDROOM</text>
<text transform="translate(494.79 1128.53) scale(1.0564 1)" font-size="18.10" font-family="Liberation Sans" font-weight="normal" fill="#1a1a1a" stroke="#1a1a1a" stroke-width="0.45" stroke-linejoin="round">4.0 x 3.6</text>
<line x1="337.00" y1="1310.80" x2="649.60" y2="1310.80" stroke="#1c1c1c" stroke-width="1.80" stroke-linecap="butt"/>
<rect x="645.80" y="1221.90" width="7.60" height="86.60" fill="#fff"/>
<line x1="646.40" y1="1221.90" x2="646.40" y2="1308.50" stroke="#1c1c1c" stroke-width="1.00" stroke-linecap="butt"/>
<line x1="649.60" y1="1221.90" x2="649.60" y2="1308.50" stroke="#1c1c1c" stroke-width="1.00" stroke-linecap="butt"/>
<line x1="652.80" y1="1221.90" x2="652.80" y2="1308.50" stroke="#1c1c1c" stroke-width="1.00" stroke-linecap="butt"/>
<line x1="644.10" y1="1221.90" x2="655.10" y2="1221.90" stroke="#1c1c1c" stroke-width="1.00" stroke-linecap="butt"/>
<line x1="644.10" y1="1265.00" x2="655.10" y2="1265.00" stroke="#1c1c1c" stroke-width="1.00" stroke-linecap="butt"/>
<line x1="644.10" y1="1308.50" x2="655.10" y2="1308.50" stroke="#1c1c1c" stroke-width="1.00" stroke-linecap="butt"/>
<rect x="313.00" y="1309.00" width="22.50" height="23.50" fill="#1c1c1c"/>
<rect x="417.50" y="1309.00" width="21.75" height="23.50" fill="#1c1c1c"/>
<rect x="627.50" y="1309.00" width="23.00" height="23.50" fill="#1c1c1c"/>
<rect x="335.50" y="1311.00" width="82.00" height="37.00" rx="0.00" stroke="#1c1c1c" stroke-width="1.30" fill="none"/>
<line x1="335.50" y1="1329.25" x2="417.50" y2="1329.25" stroke="#1c1c1c" stroke-width="1.30" stroke-linecap="butt"/>
<line x1="376.25" y1="1353.75" x2="376.25" y2="1328.00" stroke="#1c1c1c" stroke-width="1.20" stroke-linecap="butt"/>
<polygon points="376.25,1321.50 378.85,1328.50 373.65,1328.50" fill="#1c1c1c"/>
<text transform="translate(458.33 1275.53) scale(0.9799 1)" font-size="23.55" font-family="Liberation Sans" font-weight="normal" fill="#1a1a1a" stroke="#1a1a1a" stroke-width="0.45" stroke-linejoin="round">PORCH</text>
<text transform="translate(365.28 1368.03) scale(0.9982 1)" font-size="15.55" font-family="Liberation Sans" font-weight="normal" fill="#1a1a1a" stroke="#1a1a1a" stroke-width="0.45" stroke-linejoin="round">UP</text>
<text transform="translate(21.50 1536.68) scale(1.0238 1)" font-size="14.61" font-family="Liberation Sans" font-weight="normal" fill="#1a1a1a" stroke="#1a1a1a" stroke-width="0.45" stroke-linejoin="round">Disclaimer: All dimensions and areas stated are approximate only and should not be taken as a definite. In order to satisfy yourself of the exact dimensions</text>
<text transform="translate(22.09 1551.68) scale(1.0379 1)" font-size="14.61" font-family="Liberation Sans" font-weight="normal" fill="#1a1a1a" stroke="#1a1a1a" stroke-width="0.45" stroke-linejoin="round">of the property, land, or each room, we advise you to conduct your own measurements and/or engage the services of a licensed surveyor. Responsibility</text>
<text transform="translate(317.01 1566.98) scale(1.0435 1)" font-size="14.46" font-family="Liberation Sans" font-weight="normal" fill="#1a1a1a" stroke="#1a1a1a" stroke-width="0.45" stroke-linejoin="round">for any omissions or errors contained herein is expressly denied.</text>
<text transform="translate(877.34 1315.35) scale(0.9934 1)" font-size="58.80" font-family="Liberation Serif" font-weight="bold" fill="#15163a" stroke="#15163a" stroke-width="0.90" stroke-linejoin="round">N</text>
<polygon points="883.4,1337.5 924.2,1331.9 905.5,1347.5" fill="#15163a"/>
<text transform="translate(743.68 385.52) scale(0.9804 1)" font-size="19.19" font-family="Liberation Sans" font-weight="normal" fill="#1a1a1a" stroke="#1a1a1a" stroke-width="0.45" stroke-linejoin="round">R.O.W Access</text>
<path d="M745.9,397.4 L857.3,397.4 L857.3,680.3 L823.5,680.3 L823.5,724.7 L768.6,724.7 L768.6,1011.5 L826.6,1011.5 L826.6,1018 C830,1023 832.9,1030 832.9,1045 L832.9,1183.6 L745.9,1183.6 Z" fill="#e5e5e7"/>
<polygon points="874.8,397.4 950.7,397.4 950.7,680.3 874.8,680.3" fill="#e5e5e7"/>
<path d="M864,1018 C860.5,1023 857.2,1030 857.2,1045 L857.2,1183.6 L950.7,1183.6 L950.7,983 L927,983 L927,1011.5 L864,1011.5 Z" fill="#e5e5e7"/>
<path d="M944.5,983 L944.5,780 A6,6 0 0 1 950.6,775 L950.6,983 Z" fill="#e8e8e8" stroke="#1c1c1c" stroke-width="1.3"/>
<path d="M944.5,983 L944.5,1013 A6,6 0 0 0 950.6,1019.4 L950.6,983 Z" fill="#e8e8e8" stroke="#1c1c1c" stroke-width="1.3"/>
<circle cx="947.5" cy="783.00" r="3.1" fill="#1c1c1c"/>
<circle cx="947.5" cy="797.50" r="3.1" fill="#1c1c1c"/>
<circle cx="947.5" cy="810.10" r="3.1" fill="#1c1c1c"/>
<circle cx="947.5" cy="822.60" r="3.1" fill="#1c1c1c"/>
<circle cx="947.5" cy="832.20" r="3.1" fill="#1c1c1c"/>
<circle cx="947.5" cy="841.10" r="3.1" fill="#1c1c1c"/>
<circle cx="947.5" cy="871.50" r="3.1" fill="#1c1c1c"/>
<circle cx="947.5" cy="904.50" r="3.1" fill="#1c1c1c"/>
<circle cx="947.5" cy="937.00" r="3.1" fill="#1c1c1c"/>
<circle cx="947.5" cy="992.50" r="3.1" fill="#1c1c1c"/>
<circle cx="947.5" cy="1002.30" r="3.1" fill="#1c1c1c"/>
<circle cx="947.5" cy="1012.20" r="3.1" fill="#1c1c1c"/>
<path d="M857.3,411.4 L857.3,680.3 L823.5,680.3 L823.5,724.7 L768.6,724.7 L768.6,787" stroke="#1c1c1c" stroke-width="1.70" fill="none"/>
<path d="M745.9,1183.6 L745.9,397.4 L857.3,397.4 L857.3,411.4" stroke="#1c1c1c" stroke-width="1.70" fill="none"/>
<path d="M857.3,411.4 A16.9,14 0 0 0 874.2,397.4" stroke="#1c1c1c" stroke-width="1.20" fill="none"/>
<path d="M874.8,397.4 L950.7,397.4 L950.7,1183.6 L852.2,1183.6" stroke="#1c1c1c" stroke-width="1.70" fill="none"/>
<path d="M874.8,397.4 L874.8,680.3 L950.7,680.3" stroke="#1c1c1c" stroke-width="1.70" fill="none"/>
<path d="M917.4,680.3 L917.4,724.8 L950.7,724.8" stroke="#1c1c1c" stroke-width="1.70" fill="none"/>
<path d="M826.6,1018 C830,1023 832.9,1030 832.9,1045 L832.9,1183.6" stroke="#1c1c1c" stroke-width="1.70" fill="none"/>
<path d="M864,1018 C860.5,1023 857.2,1030 857.2,1045 L857.2,1183.6" stroke="#1c1c1c" stroke-width="1.70" fill="none"/>
<path d="M745.9,1183.6 L837,1183.6" stroke="#1c1c1c" stroke-width="1.70" fill="none"/>
<path d="M837,1183.6 A15.2,14.7 0 0 1 852.2,1168.9 L852.2,1183.6" stroke="#1c1c1c" stroke-width="1.30" fill="none"/>
<rect x="837.70" y="1182.50" width="13.80" height="2.50" fill="#fff"/>
<path d="M749.4,1011.4 A15.2,14.7 0 0 1 764.6,996.7 L764.6,1011.4 L768.6,1011.4" stroke="#1c1c1c" stroke-width="1.30" fill="none"/>
<path d="M928,983 A15.2,14 0 0 1 943.2,969 L943.2,983" stroke="#1c1c1c" stroke-width="1.30" fill="none"/>
<rect x="748.50" y="772.70" width="7.90" height="7.90" stroke="#1c1c1c" stroke-width="1.30" fill="#fff"/>
<rect x="758.10" y="772.70" width="7.90" height="7.90" stroke="#1c1c1c" stroke-width="1.30" fill="#fff"/>
<rect x="753.10" y="786.20" width="8.50" height="8.20" stroke="#1c1c1c" stroke-width="1.30" fill="#fff"/>
<rect x="753.10" y="799.80" width="8.50" height="8.20" stroke="#1c1c1c" stroke-width="1.30" fill="#fff"/>
<rect x="753.10" y="813.40" width="8.50" height="8.20" stroke="#1c1c1c" stroke-width="1.30" fill="#fff"/>
<rect x="753.10" y="827.00" width="8.50" height="8.20" stroke="#1c1c1c" stroke-width="1.30" fill="#fff"/>
<rect x="753.10" y="840.60" width="8.50" height="8.20" stroke="#1c1c1c" stroke-width="1.30" fill="#fff"/>
<rect x="753.10" y="854.20" width="8.50" height="8.20" stroke="#1c1c1c" stroke-width="1.30" fill="#fff"/>
<rect x="753.10" y="867.80" width="8.50" height="8.20" stroke="#1c1c1c" stroke-width="1.30" fill="#fff"/>
<rect x="753.10" y="881.40" width="8.50" height="8.20" stroke="#1c1c1c" stroke-width="1.30" fill="#fff"/>
<rect x="753.10" y="895.00" width="8.50" height="8.20" stroke="#1c1c1c" stroke-width="1.30" fill="#fff"/>
<rect x="753.10" y="908.60" width="8.50" height="8.20" stroke="#1c1c1c" stroke-width="1.30" fill="#fff"/>
<rect x="753.10" y="922.20" width="8.50" height="8.20" stroke="#1c1c1c" stroke-width="1.30" fill="#fff"/>
<rect x="753.10" y="935.80" width="8.50" height="8.20" stroke="#1c1c1c" stroke-width="1.30" fill="#fff"/>
<rect x="753.10" y="949.40" width="8.50" height="8.20" stroke="#1c1c1c" stroke-width="1.30" fill="#fff"/>
<rect x="753.10" y="963.00" width="8.50" height="8.20" stroke="#1c1c1c" stroke-width="1.30" fill="#fff"/>
<rect x="753.10" y="976.60" width="8.50" height="8.20" stroke="#1c1c1c" stroke-width="1.30" fill="#fff"/>
<rect x="753.10" y="990.20" width="8.50" height="8.20" stroke="#1c1c1c" stroke-width="1.30" fill="#fff"/>
<path d="M768.65,787.2 L789.4,787.2 L789.4,819.5 L857.9,819.5 L857.9,809 L875.2,809 L875.2,819.5 L926.9,819.5 L926.9,983.3 L832.7,983.3 L832.7,1011.5 L768.65,1011.5 Z" fill="#eaeaea" stroke="#1c1c1c" stroke-width="3.5"/>
<rect x="832.70" y="983.30" width="94.20" height="28.20" stroke="#1c1c1c" stroke-width="3.40" fill="#fff"/>
<rect x="832.50" y="808.30" width="23.60" height="11.20" stroke="#1c1c1c" stroke-width="1.30" fill="#fff"/>
<line x1="832.50" y1="814.10" x2="856.10" y2="814.10" stroke="#1c1c1c" stroke-width="1.20"/>
<line x1="845.20" y1="802.70" x2="845.20" y2="813.00" stroke="#1c1c1c" stroke-width="1.10"/>
<polygon points="845.20,818.00 843.20,813.00 847.20,813.00" fill="#1c1c1c"/>
<text transform="translate(837.81 798.77) scale(0.9790 1)" font-size="10.83" font-family="Liberation Sans" font-weight="normal" fill="#1a1a1a" stroke="#1a1a1a" stroke-width="0.45" stroke-linejoin="round">UP</text>
<rect x="832.50" y="1011.50" width="24.90" height="11.20" stroke="#1c1c1c" stroke-width="1.30" fill="#fff"/>
<line x1="832.50" y1="1018.10" x2="857.40" y2="1018.10" stroke="#1c1c1c" stroke-width="1.20"/>
<line x1="845.60" y1="1026.00" x2="845.60" y2="1017.00" stroke="#1c1c1c" stroke-width="1.10"/>
<polygon points="845.60,1012.80 847.60,1017.80 843.60,1017.80" fill="#1c1c1c"/>
<rect x="826.60" y="1010.00" width="6.50" height="8.70" fill="#1c1c1c"/>
<rect x="857.40" y="1010.00" width="6.60" height="8.70" fill="#1c1c1c"/>
<rect x="919.70" y="1010.00" width="7.30" height="8.70" fill="#1c1c1c"/>
<text transform="translate(838.44 1035.28) scale(1.0169 1)" font-size="9.96" font-family="Liberation Sans" font-weight="normal" fill="#1a1a1a" stroke="#1a1a1a" stroke-width="0.45" stroke-linejoin="round">UP</text>
<text transform="translate(780.35 923.52) scale(1.0182 1)" font-size="22.46" font-family="Liberation Sans" font-weight="normal" fill="#1a1a1a" stroke="#1a1a1a" stroke-width="0.45" stroke-linejoin="round">RESIDENCE</text>
<text transform="translate(840.03 1006.07) scale(1.0409 1)" font-size="22.17" font-family="Liberation Sans" font-weight="normal" fill="#1a1a1a" stroke="#1a1a1a" stroke-width="0.45" stroke-linejoin="round">PORCH</text>
<rect x="878.90" y="551.50" width="51.70" height="50.30" stroke="#1c1c1c" stroke-width="3.20" fill="#e5e5e7"/>
<text transform="translate(884.05 582.27) scale(0.9162 1)" font-size="16.28" font-family="Liberation Sans" font-weight="normal" fill="#1a1a1a" stroke="#1a1a1a" stroke-width="0.45" stroke-linejoin="round">SHED</text>
<rect x="769.70" y="580.00" width="49.30" height="93.70" stroke="#1c1c1c" stroke-width="3.40" fill="#e5e5e7"/>
<g transform="rotate(-90 794.5 627)"><text transform="translate(750.04 633.23) scale(0.8310 1)" font-size="18.10" font-family="Liberation Sans" font-weight="normal" fill="#1a1a1a" stroke="#1a1a1a" stroke-width="0.45" stroke-linejoin="round">BUNGALOW</text></g>
<line x1="776.50" y1="676.00" x2="790.60" y2="676.00" stroke="#1c1c1c" stroke-width="2.20"/>
<text transform="translate(778.01 683.07) scale(1.0245 1)" font-size="7.05" font-family="Liberation Sans" font-weight="normal" fill="#1a1a1a" stroke="#1a1a1a" stroke-width="0.45" stroke-linejoin="round">A/C</text>
<rect x="824.70" y="653.20" width="8.50" height="8.20" stroke="#1c1c1c" stroke-width="1.30" fill="#fff"/>
<rect x="824.70" y="666.20" width="8.50" height="8.00" stroke="#1c1c1c" stroke-width="1.30" fill="#fff"/>
<circle cx="826.50" cy="538.80" r="22.30" fill="#fff" stroke="#1c1c1c" stroke-width="0.99"/>
<path d="M826.50,538.80 L824.21,535.92 L822.56,532.59 L821.13,529.16 L820.68,525.28 L817.36,522.83 L815.38,519.73 M822.56,532.59 L818.26,529.71 L812.61,528.71 L807.48,527.59 M821.13,529.16 L822.06,524.77 L823.33,520.68 L824.76,516.79 M826.50,538.80 L825.48,535.27 L824.30,531.78 L822.41,528.55 L822.27,524.70 L820.74,521.33 L820.92,517.44 M824.30,531.78 L821.69,527.52 L817.24,524.34 L812.84,521.46 M822.41,528.55 L818.24,526.62 L814.98,524.46 L809.69,524.48 M826.50,538.80 L827.51,535.26 L827.94,531.58 L828.17,527.89 L827.67,524.13 L829.61,520.67 L830.89,517.16 M827.94,531.58 L826.32,526.54 L823.23,521.94 L817.76,518.53 M828.17,527.89 L830.48,524.63 L833.74,521.89 L837.23,519.51 M826.50,538.80 L828.52,535.72 L830.24,532.46 L832.34,529.44 L832.75,525.48 L835.02,522.49 L835.95,518.85 M830.24,532.46 L834.05,529.13 L838.65,526.66 L844.63,526.20 M832.34,529.44 L832.37,525.30 L830.73,520.89 L829.67,516.95 M826.50,538.80 L830.04,537.79 L833.69,537.21 L837.44,537.32 L840.76,535.15 L844.60,535.48 L848.08,534.12 M833.69,537.21 L837.97,534.47 L841.23,529.97 L843.28,524.45 M837.44,537.32 L840.83,535.42 L843.81,532.56 L845.43,527.44 M826.50,538.80 L830.07,539.68 L833.45,541.22 L837.12,541.80 L840.70,542.67 L844.14,544.02 L847.20,546.48 M833.45,541.22 L837.05,545.05 L840.47,548.78 L841.36,555.13 M837.12,541.80 L841.02,541.23 L844.90,539.06 L848.43,536.23 M826.50,538.80 L829.47,540.97 L832.22,543.43 L835.72,544.87 L838.42,547.44 L841.88,548.89 L844.04,552.20 M832.22,543.43 L837.27,544.68 L842.47,545.11 L848.00,543.80 M835.72,544.87 L839.48,545.74 L843.92,544.71 L848.42,541.40 M826.50,538.80 L827.70,542.28 L829.15,545.66 L831.09,548.84 L832.13,552.40 L834.96,555.14 L834.34,559.44 M829.15,545.66 L833.03,549.18 L837.40,552.06 L842.29,554.23 M831.09,548.84 L834.78,550.97 L839.54,551.78 L843.55,552.82 M826.50,538.80 L825.96,542.44 L824.83,545.97 L824.52,549.66 L824.02,553.31 L821.26,556.44 L818.45,559.36 M824.83,545.97 L821.23,549.88 L816.52,552.77 L811.54,555.03 M824.52,549.66 L822.14,552.86 L818.71,555.46 L815.19,557.76 M826.50,538.80 L823.72,541.21 L820.44,542.97 L817.22,544.78 L814.13,546.77 L811.43,549.35 L809.75,553.18 M820.44,542.97 L815.46,544.14 L810.06,543.77 L804.65,541.95 M817.22,544.78 L815.85,548.96 L815.81,553.77 L817.04,558.75 M826.50,538.80 L822.88,539.44 L819.30,540.32 L815.60,540.55 L812.11,541.89 L808.53,542.73 L804.67,542.11 M819.30,540.32 L814.24,538.73 L809.48,536.51 L805.05,533.58 M815.60,540.55 L812.46,543.23 L810.30,547.52 L808.52,551.62 M826.50,538.80 L822.86,538.28 L819.21,537.76 L815.65,536.79 L811.95,536.62 L808.18,537.06 L804.46,537.53 M819.21,537.76 L814.68,535.52 L811.18,531.04 L809.20,525.08 M815.65,536.79 L812.94,533.07 L811.46,528.20 L810.60,523.49" stroke="#1c1c1c" stroke-width="0.90" fill="none" stroke-linejoin="round"/>
<circle cx="839.30" cy="612.00" r="16.10" fill="#fff" stroke="#1c1c1c" stroke-width="0.99"/>
<path d="M839.30,612.00 L838.23,614.43 L837.67,617.06 L836.78,619.56 L836.27,622.19 L836.88,625.06 L836.37,627.67 M837.67,617.06 L837.36,620.64 L838.28,624.36 L839.80,627.93 M836.78,619.56 L835.07,621.75 L832.15,623.19 L828.07,623.32 M839.30,612.00 L836.88,613.10 L834.73,614.70 L832.36,615.91 L830.66,618.18 L829.04,620.43 L826.85,621.95 M834.73,614.70 L832.27,617.39 L830.27,620.49 L828.79,623.98 M832.36,615.91 L829.33,615.69 L826.23,614.37 L823.42,613.35 M839.30,612.00 L836.65,611.76 L833.99,612.03 L831.34,611.64 L828.69,611.36 L826.07,610.82 L823.42,610.59 M833.99,612.03 L830.59,610.39 L827.56,608.00 L825.61,603.84 M831.34,611.64 L828.82,610.23 L826.86,607.34 L825.60,603.86 M839.30,612.00 L837.33,610.22 L835.37,608.42 L833.92,606.12 L832.57,603.78 L830.37,602.17 L830.02,599.04 M835.37,608.42 L831.93,607.09 L828.33,606.22 L824.37,606.43 M833.92,606.12 L833.28,603.24 L834.28,599.70 L834.64,596.76 M839.30,612.00 L839.08,609.35 L839.27,606.69 L838.95,604.04 L838.45,601.41 L838.23,598.76 L839.15,596.06 M839.27,606.69 L837.51,603.33 L834.30,600.66 L830.81,598.51 M838.95,604.04 L837.90,601.47 L835.24,599.35 L831.92,597.87 M839.30,612.00 L840.93,609.90 L842.33,607.64 L843.66,605.33 L845.47,603.35 L845.73,600.38 L846.89,597.98 M842.33,607.64 L843.08,603.99 L842.87,600.13 L842.18,596.32 M843.66,605.33 L845.96,603.72 L848.76,602.67 L852.05,602.43 M839.30,612.00 L841.64,610.75 L843.95,609.44 L846.33,608.24 L849.09,607.87 L851.90,607.79 L854.80,608.28 M843.95,609.44 L847.69,609.18 L851.63,610.68 L855.20,613.10 M846.33,608.24 L849.52,609.09 L852.38,609.67 L855.20,610.86 M839.30,612.00 L841.96,612.05 L844.61,612.09 L847.26,612.30 L849.92,611.80 L852.46,610.18 L855.04,609.50 M844.61,612.09 L848.01,613.60 L851.12,615.74 L853.95,618.27 M847.26,612.30 L849.87,610.88 L851.96,607.98 L853.12,604.07 M839.30,612.00 L841.08,613.97 L842.96,615.85 L844.94,617.63 L846.85,619.48 L848.96,621.12 L851.67,622.05 M842.96,615.85 L846.25,617.49 L849.72,618.72 L853.92,618.34 M844.94,617.63 L847.40,618.88 L850.24,619.54 L853.22,619.77 M839.30,612.00 L840.12,614.53 L840.47,617.18 L840.84,619.82 L842.23,622.21 L843.71,624.53 L845.14,626.83 M840.47,617.18 L839.97,620.83 L839.05,624.39 L836.62,627.71 M840.84,619.82 L839.81,622.61 L838.29,625.24 L836.51,627.69" stroke="#1c1c1c" stroke-width="0.90" fill="none" stroke-linejoin="round"/>
<circle cx="758.30" cy="673.00" r="9.90" fill="#fff" stroke="#1c1c1c" stroke-width="0.88"/>
<path d="M758.30,673.00 L756.69,673.30 L755.09,673.63 L753.49,673.93 L751.86,674.10 L750.38,674.99 L748.79,675.36 M755.09,673.63 L753.08,674.54 L751.30,676.03 L749.70,677.71 M753.49,673.93 L752.17,675.27 L751.09,676.84 L750.40,678.80 M758.30,673.00 L756.93,672.11 L755.62,671.13 L754.51,669.89 L752.84,669.41 L751.02,669.29 L750.01,667.78 M755.62,671.13 L753.33,670.79 L751.00,670.80 L748.58,671.73 M754.51,669.89 L752.68,669.67 L750.67,670.09 L748.72,670.91 M758.30,673.00 L757.86,671.43 L757.26,669.90 L757.30,668.20 L757.73,666.49 L758.26,664.83 L758.74,663.21 M757.26,669.90 L757.55,667.61 L758.40,665.38 L759.25,663.25 M757.30,668.20 L756.11,666.84 L754.10,666.00 L752.18,665.34 M758.30,673.00 L759.32,671.73 L760.03,670.23 L760.60,668.67 L761.92,667.56 L762.77,666.17 L764.58,665.47 M760.03,670.23 L761.79,668.82 L764.06,668.00 L766.35,667.41 M760.60,668.67 L762.07,667.67 L763.80,666.96 L765.47,666.32 M758.30,673.00 L759.89,672.64 L761.41,672.01 L763.04,671.75 L764.38,670.60 L765.87,669.94 L767.37,669.29 M761.41,672.01 L763.20,670.63 L764.77,668.97 L765.54,666.39 M763.04,671.75 L764.32,670.47 L765.34,668.86 L766.00,666.94 M758.30,673.00 L759.75,673.76 L761.05,674.76 L762.10,676.10 L763.27,677.24 L763.84,679.00 L765.73,679.39 M761.05,674.76 L763.24,675.29 L765.71,674.78 L768.08,673.64 M762.10,676.10 L763.70,676.68 L765.48,676.90 L767.49,676.41 M758.30,673.00 L758.92,674.51 L759.30,676.11 L759.93,677.62 L761.10,678.91 L762.30,680.12 L762.82,681.70 M759.30,676.11 L760.80,677.84 L762.66,679.25 L765.00,680.16 M759.93,677.62 L759.23,679.47 L758.66,681.16 L757.42,682.76 M758.30,673.00 L757.56,674.46 L757.01,676.00 L756.25,677.45 L755.25,678.78 L755.09,680.51 L754.18,681.89 M757.01,676.00 L757.07,678.30 L757.58,680.59 L758.82,682.79 M756.25,677.45 L756.42,679.26 L756.70,681.01 L757.20,682.74" stroke="#1c1c1c" stroke-width="0.80" fill="none" stroke-linejoin="round"/>
<circle cx="766.60" cy="688.80" r="9.70" fill="#fff" stroke="#1c1c1c" stroke-width="0.88"/>
<path d="M766.60,688.80 L766.37,690.38 L765.88,691.92 L765.87,693.55 L766.04,695.18 L766.57,696.80 L767.20,698.38 M765.88,691.92 L765.91,694.09 L766.78,696.27 L767.89,698.32 M765.87,693.55 L765.10,695.02 L763.97,696.36 L761.91,697.18 M766.60,688.80 L765.19,689.56 L763.67,690.08 L762.41,691.15 L760.81,691.53 L759.08,691.52 L757.77,692.58 M763.67,690.08 L761.40,690.00 L759.13,688.91 L757.15,687.11 M762.41,691.15 L760.66,691.18 L758.88,690.92 L757.02,689.40 M766.60,688.80 L765.03,688.51 L763.48,688.09 L762.04,687.30 L760.59,686.60 L759.19,685.77 L757.58,685.50 M763.48,688.09 L761.69,686.72 L760.27,684.84 L759.53,682.30 M762.04,687.30 L760.30,687.68 L758.60,688.85 L757.12,690.34 M766.60,688.80 L765.39,687.75 L764.11,686.79 L762.78,685.90 L761.29,685.23 L759.73,684.69 L758.86,683.12 M764.11,686.79 L763.03,684.84 L762.54,682.53 L763.12,679.85 M762.78,685.90 L761.91,684.45 L761.55,682.59 L761.87,680.44 M766.60,688.80 L766.48,687.20 L766.31,685.61 L766.59,684.00 L766.16,682.41 L766.05,680.82 L766.40,679.20 M766.31,685.61 L767.02,683.48 L767.95,681.45 L769.61,679.68 M766.59,684.00 L767.88,682.53 L769.67,681.41 L771.23,680.38 M766.60,688.80 L767.85,687.80 L769.20,686.93 L770.24,685.67 L771.90,685.20 L773.33,684.47 L774.94,684.04 M769.20,686.93 L770.23,684.89 L771.19,682.91 L771.06,680.30 M770.24,685.67 L770.87,684.03 L770.77,681.97 L770.52,680.03 M766.60,688.80 L768.20,688.68 L769.80,688.70 L771.37,688.21 L772.89,687.60 L774.26,686.50 L775.89,686.35 M769.80,688.70 L771.77,687.50 L773.35,685.61 L774.46,683.29 M771.37,688.21 L772.85,687.40 L774.13,686.10 L775.11,684.36 M766.60,688.80 L767.53,690.11 L768.32,691.50 L768.75,693.10 L769.43,694.54 L769.52,696.25 L771.08,697.29 M768.32,691.50 L768.88,693.62 L768.75,695.95 L767.33,698.37 M768.75,693.10 L768.81,694.81 L768.53,696.57 L767.09,698.39" stroke="#1c1c1c" stroke-width="0.80" fill="none" stroke-linejoin="round"/>
<circle cx="760.50" cy="709.50" r="12.50" fill="#fff" stroke="#1c1c1c" stroke-width="0.88"/>
<path d="M760.50,709.50 L758.54,708.85 L756.52,708.40 L754.65,707.47 L752.85,706.42 L751.09,705.28 L748.79,705.51 M756.52,708.40 L753.71,708.44 L750.88,709.87 L748.32,711.69 M754.65,707.47 L753.27,705.52 L752.48,703.02 L752.43,700.11 M760.50,709.50 L759.00,708.08 L757.28,706.93 L755.95,705.31 L754.04,704.37 L753.04,702.38 L751.62,700.88 M757.28,706.93 L754.63,705.92 L751.83,705.31 L748.57,706.20 M755.95,705.31 L753.79,704.71 L751.60,704.30 L748.74,705.64 M760.50,709.50 L760.65,707.44 L760.45,705.38 L760.89,703.33 L761.64,701.33 L762.95,699.48 L762.03,697.22 M760.45,705.38 L761.52,702.70 L763.84,700.47 L766.84,698.87 M760.89,703.33 L759.26,701.34 L757.62,699.60 L754.88,698.48 M760.50,709.50 L761.81,707.90 L763.16,706.34 L764.98,705.23 L766.51,703.84 L767.77,702.18 L768.72,700.25 M763.16,706.34 L765.46,704.74 L768.44,704.07 L771.68,704.20 M764.98,705.23 L765.78,703.16 L766.07,700.82 L765.80,698.32 M760.50,709.50 L762.41,708.72 L764.34,708.00 L766.41,707.65 L768.27,706.73 L769.78,705.01 L772.20,705.46 M764.34,708.00 L766.48,706.11 L768.25,703.79 L769.09,700.59 M766.41,707.65 L768.01,706.09 L769.46,704.40 L769.68,701.20 M760.50,709.50 L762.34,710.43 L764.15,711.42 L765.84,712.62 L767.72,713.50 L769.23,714.99 L770.19,717.20 M764.15,711.42 L766.21,713.32 L767.14,716.47 L766.94,720.07 M765.84,712.62 L768.33,712.11 L770.53,711.90 L772.87,709.73 M760.50,709.50 L761.19,711.44 L762.05,713.32 L763.07,715.13 L764.53,716.70 L765.71,718.40 L766.25,720.46 M762.05,713.32 L761.78,716.25 L760.65,719.12 L759.00,721.78 M763.07,715.13 L765.05,716.38 L767.46,717.11 L770.62,716.62 M760.50,709.50 L759.78,711.43 L759.00,713.34 L757.83,715.08 L757.77,717.29 L756.20,718.87 L755.11,720.64 M759.00,713.34 L757.30,715.58 L754.90,717.33 L751.72,718.22 M757.83,715.08 L758.62,717.53 L760.04,719.80 L761.33,721.85 M760.50,709.50 L758.90,710.80 L757.38,712.20 L756.30,714.05 L754.56,715.23 L752.96,716.54 L751.61,718.11 M757.38,712.20 L754.46,712.78 L751.61,713.19 L748.32,711.70 M756.30,714.05 L755.98,716.40 L756.04,718.80 L757.70,721.55" stroke="#1c1c1c" stroke-width="0.80" fill="none" stroke-linejoin="round"/>
<circle cx="910.30" cy="1108.60" r="33.30" fill="#fff" stroke="#1c1c1c" stroke-width="0.99"/>
<path d="M910.30,1108.60 L908.23,1103.51 L906.18,1098.41 L903.74,1093.48 L904.01,1087.54 L901.12,1082.71 L896.70,1078.57 M906.18,1098.41 L905.08,1091.04 L906.44,1083.25 L912.42,1075.70 M903.74,1093.48 L897.93,1090.43 L890.53,1089.53 L884.75,1087.76 M910.30,1108.60 L911.30,1103.20 L913.38,1098.05 L913.43,1092.42 L914.24,1086.98 L917.58,1082.11 L915.74,1076.09 M913.38,1098.05 L912.96,1090.48 L911.63,1082.99 L906.02,1075.91 M913.43,1092.42 L917.48,1087.83 L924.69,1085.20 L931.82,1083.62 M910.30,1108.60 L912.96,1103.79 L915.94,1099.17 L918.44,1094.26 L922.38,1090.24 L925.82,1085.93 L926.29,1079.77 M915.94,1099.17 L917.50,1091.76 L917.99,1084.14 L914.80,1075.94 M918.44,1094.26 L918.03,1088.03 L916.17,1081.76 L910.35,1075.63 M910.30,1108.60 L915.48,1106.77 L920.68,1104.99 L926.24,1104.41 L931.55,1102.98 L936.73,1101.12 L942.11,1099.94 M920.68,1104.99 L926.01,1099.19 L930.65,1093.00 L934.69,1086.43 M926.24,1104.41 L932.14,1106.10 L937.72,1110.26 L942.38,1116.18 M910.30,1108.60 L915.72,1109.49 L921.17,1110.24 L926.70,1110.25 L932.27,1109.07 L937.77,1108.78 L943.24,1107.31 M921.17,1110.24 L928.58,1109.68 L935.89,1106.95 L941.99,1099.51 M926.70,1110.25 L931.86,1112.85 L936.67,1116.29 L940.20,1122.48 M910.30,1108.60 L915.10,1111.28 L919.98,1113.80 L925.22,1115.61 L931.02,1115.92 L936.84,1115.69 L942.55,1115.45 M919.98,1113.80 L924.43,1120.26 L928.20,1126.96 L929.64,1135.30 M925.22,1115.61 L931.30,1115.08 L937.67,1110.98 L943.26,1108.12 M910.30,1108.60 L912.13,1113.78 L914.49,1118.76 L916.07,1124.04 L920.22,1128.21 L922.43,1133.25 L925.87,1137.66 M914.49,1118.76 L915.38,1126.20 L913.62,1134.02 L911.66,1141.54 M916.07,1124.04 L914.37,1130.20 L912.41,1135.99 L909.29,1141.55 M910.30,1108.60 L909.59,1114.05 L909.84,1119.58 L910.30,1125.08 L910.24,1130.58 L911.79,1136.03 L909.05,1141.54 M909.84,1119.58 L906.45,1126.50 L900.61,1132.34 L894.28,1137.41 M910.30,1125.08 L906.03,1130.16 L899.44,1133.83 L891.45,1135.65 M910.30,1108.60 L908.11,1113.64 L905.08,1118.27 L903.84,1123.76 L901.25,1128.63 L901.43,1134.60 L898.04,1139.20 M905.08,1118.27 L898.91,1122.94 L891.96,1126.52 L884.41,1129.00 M903.84,1123.76 L897.55,1126.50 L892.35,1129.40 L884.78,1129.47 M910.30,1108.60 L905.41,1111.11 L901.13,1114.66 L896.86,1118.14 L892.95,1122.10 L889.17,1126.15 L884.47,1129.09 M901.13,1114.66 L894.21,1117.35 L886.50,1118.14 L878.70,1117.99 M896.86,1118.14 L894.25,1123.62 L894.73,1131.24 L894.52,1137.54 M910.30,1108.60 L904.84,1107.96 L899.46,1106.78 L894.05,1105.81 L889.06,1102.96 L883.90,1100.99 L877.82,1102.97 M899.46,1106.78 L891.99,1108.59 L884.82,1111.51 L878.77,1118.22 M894.05,1105.81 L888.35,1107.48 L882.86,1109.97 L877.81,1114.19 M910.30,1108.60 L905.75,1105.52 L900.62,1103.40 L895.68,1100.98 L890.93,1098.22 L886.33,1095.17 L880.99,1093.50 M900.62,1103.40 L892.90,1102.88 L885.18,1103.47 L877.42,1106.19 M895.68,1100.98 L889.46,1101.63 L883.02,1105.36 L877.35,1107.62" stroke="#1c1c1c" stroke-width="0.90" fill="none" stroke-linejoin="round"/>
<circle cx="866.60" cy="1039.10" r="7.40" fill="#333" stroke="#1c1c1c" stroke-width="1"/>
<path d="M869.15,1039.57 L872.09,1041.31 M867.83,1041.38 L868.32,1044.77 M866.48,1041.69 L865.15,1044.84 M864.48,1040.59 L861.18,1041.49 M864.44,1037.67 L862.40,1034.92 M866.26,1036.53 L867.01,1033.19 M868.35,1037.19 L871.38,1035.61" stroke="#bbb" stroke-width="1.1" fill="none"/>
<circle cx="866.30" cy="1058.10" r="7.40" fill="#333" stroke="#1c1c1c" stroke-width="1"/>
<path d="M868.88,1057.83 L872.19,1058.66 M868.21,1059.84 L869.80,1062.88 M865.83,1060.65 L864.09,1063.59 M864.14,1059.53 L860.82,1060.33 M863.81,1057.40 L861.04,1055.39 M865.62,1055.60 L865.92,1052.19 M868.23,1056.37 L871.41,1055.11" stroke="#bbb" stroke-width="1.1" fill="none"/>
<circle cx="865.60" cy="1077.50" r="7.60" fill="#333" stroke="#1c1c1c" stroke-width="1"/>
<path d="M868.24,1077.81 L871.38,1079.40 M866.98,1079.78 L867.65,1083.22 M865.02,1080.10 L863.13,1083.06 M863.32,1078.88 L859.88,1079.55 M863.02,1076.84 L860.12,1074.86 M865.18,1074.87 L865.85,1071.43 M867.23,1075.40 L870.21,1073.54" stroke="#bbb" stroke-width="1.1" fill="none"/>
</svg>
</body></html>
